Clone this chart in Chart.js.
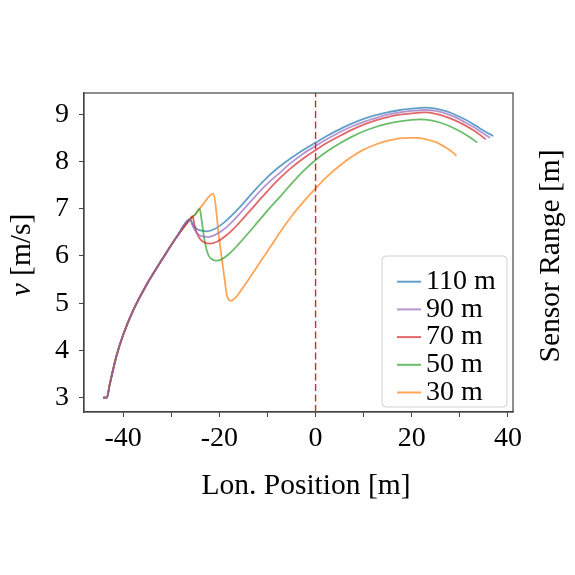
<!DOCTYPE html>
<html>
<head>
<meta charset="utf-8">
<script src="https://cdn.jsdelivr.net/npm/chart.js@4.4.1/dist/chart.umd.min.js"></script>
<style>
  html, body { margin: 0; padding: 0; background: #fff; }
  #wrap { width: 575px; height: 575px; }
</style>
</head>
<body>
<div id="wrap"><canvas id="speedChart" width="575" height="575"></canvas></div>
<script>
// axis ranges
const xMin = -48.15, xMax = 41.05;
const yMin = 2.695, yMax = 9.45;

// shared acceleration phase (same for every sensor range)
const startX = [-44.2, -43.4, -42.8, -41.4, -40.0, -38.0, -35.2, -31.7, -28.9, -26.1];
const startV = [3.0, 3.0, 3.28, 3.88, 4.33, 4.83, 5.38, 5.96, 6.40, 6.78];

// 110 m
const x110 = [-25.5, -24.5, -23.5, -22.7, -21.0, -19.0, -17.0, -15.0, -13.0, -11.0, -8.0, -5.0, -2.5, 0.0, 2.5, 5.0, 7.5, 10.0, 12.5, 15.0, 17.5, 20.0, 22.7, 25.0, 27.3, 29.0, 30.7, 32.5, 34.2, 35.7, 36.95];
const v110 = [6.66, 6.56, 6.53, 6.52, 6.57, 6.71, 6.90, 7.12, 7.35, 7.57, 7.85, 8.08, 8.25, 8.40, 8.55, 8.68, 8.80, 8.90, 8.98, 9.04, 9.09, 9.12, 9.14, 9.12, 9.06, 8.99, 8.91, 8.81, 8.70, 8.61, 8.54];
// 90 m
const x90 = [-25.5, -24.8, -24.0, -23.2, -22.35, -21.0, -19.0, -17.0, -15.0, -13.0, -11.0, -9.5, -8.0, -5.0, -2.5, 0.0, 2.5, 5.0, 7.5, 10.0, 12.5, 15.0, 17.5, 20.0, 22.7, 25.0, 27.3, 29.0, 30.7, 32.5, 34.2, 36.3];
const v90 = [6.62, 6.50, 6.43, 6.41, 6.40, 6.44, 6.57, 6.76, 6.98, 7.21, 7.43, 7.58, 7.71, 7.98, 8.17, 8.33, 8.48, 8.62, 8.74, 8.84, 8.92, 8.99, 9.04, 9.07, 9.09, 9.07, 9.01, 8.94, 8.85, 8.75, 8.64, 8.50];
// 70 m
const x70 = [-25.6, -25.1, -24.4, -23.4, -22.0, -20.5, -19.0, -17.0, -15.0, -13.0, -11.0, -8.0, -5.0, -2.5, 0.0, 2.5, 5.0, 7.5, 10.0, 12.5, 15.0, 17.5, 20.0, 22.7, 25.0, 27.0, 29.0, 31.0, 33.0, 35.4];
const v70 = [6.84, 6.62, 6.42, 6.30, 6.26, 6.30, 6.40, 6.58, 6.80, 7.03, 7.26, 7.59, 7.87, 8.07, 8.24, 8.40, 8.54, 8.67, 8.78, 8.87, 8.94, 8.99, 9.02, 9.04, 9.01, 8.95, 8.87, 8.77, 8.65, 8.47];
// 50 m
const x50 = [-25.0, -24.1, -23.7, -23.0, -22.3, -21.4, -20.6, -19.5, -18.0, -16.0, -14.0, -12.0, -10.0, -7.5, -5.0, -2.5, 0.0, 2.5, 5.0, 7.5, 10.0, 12.5, 15.0, 17.5, 20.0, 21.7, 24.0, 26.0, 28.0, 30.0, 32.0, 33.6];
const v50 = [6.88, 7.00, 6.76, 6.28, 6.02, 5.92, 5.90, 5.93, 6.04, 6.25, 6.48, 6.72, 6.96, 7.24, 7.53, 7.80, 8.03, 8.22, 8.38, 8.52, 8.64, 8.73, 8.80, 8.85, 8.88, 8.89, 8.87, 8.82, 8.74, 8.64, 8.52, 8.40];
// 30 m
const x30 = [-25.0, -23.5, -21.3, -20.0, -19.0, -18.4, -17.6, -16.8, -15.5, -14.0, -12.5, -11.0, -9.0, -7.4, -5.0, -2.5, 0.0, 2.5, 5.0, 7.5, 10.0, 12.5, 15.0, 17.5, 20.0, 21.0, 23.0, 25.0, 27.0, 28.3, 29.3];
const v30 = [6.88, 7.08, 7.32, 6.33, 5.57, 5.15, 5.05, 5.10, 5.27, 5.49, 5.72, 5.95, 6.25, 6.50, 6.84, 7.15, 7.43, 7.69, 7.91, 8.10, 8.25, 8.36, 8.44, 8.49, 8.50, 8.50, 8.47, 8.41, 8.30, 8.21, 8.12];

const labels = ['110 m', '90 m', '70 m', '50 m', '30 m'];
const colors = ['rgba(31,119,180,0.7)', 'rgba(148,103,189,0.7)', 'rgba(214,39,40,0.7)', 'rgba(44,160,44,0.7)', 'rgba(255,127,14,0.7)'];
const drawOrder = [4, 0, 1, 2, 3];

const FONT = '"Liberation Serif", "Times New Roman", serif';

function pts(xs, vs) {
  const all = startX.map((x, i) => ({x: x, y: startV[i]}));
  xs.forEach((x, i) => all.push({x: x, y: vs[i]}));
  return all;
}

const tails = [[x110, v110], [x90, v90], [x70, v70], [x50, v50], [x30, v30]];
const datasets = tails.map((t, i) => ({
  label: labels[i],
  data: pts(t[0], t[1]),
  borderColor: colors[i],
  backgroundColor: colors[i],
  borderWidth: 1.8,
  pointRadius: 0,
  cubicInterpolationMode: 'monotone',
  order: drawOrder[i]
}));
datasets.push({
  label: 'zero',
  data: [{x: 0, y: yMin}, {x: 0, y: yMax}],
  borderColor: '#d62728',
  borderWidth: 1.4,
  borderDash: [7, 3.5],
  pointRadius: 0,
  order: -1
});

const framePlugin = {
  id: 'frame',
  afterDraw(chart) {
    const ctx = chart.ctx;
    const a = chart.chartArea;
    ctx.save();
    ctx.strokeStyle = '#444';
    ctx.lineWidth = 1.2;
    ctx.strokeRect(a.left, a.top, a.right - a.left, a.bottom - a.top);

    // axis titles
    ctx.fillStyle = '#000';
    ctx.textAlign = 'center';
    ctx.textBaseline = 'middle';
    ctx.font = '29.5px ' + FONT;
    ctx.fillText('Lon. Position [m]', 306, 486);

    ctx.save();
    ctx.translate(22, 255);
    ctx.rotate(-Math.PI / 2);
    ctx.font = 'italic 29.5px ' + FONT;
    const vw = ctx.measureText('v').width;
    ctx.font = '29.5px ' + FONT;
    const rw = ctx.measureText(' [m/s]').width;
    const x0 = -(vw + rw) / 2;
    ctx.textAlign = 'left';
    ctx.font = 'italic 29.5px ' + FONT;
    ctx.fillText('v', x0, 0);
    ctx.font = '29.5px ' + FONT;
    ctx.fillText(' [m/s]', x0 + vw, 0);
    ctx.restore();

    ctx.save();
    ctx.translate(551, 256);
    ctx.rotate(-Math.PI / 2);
    ctx.font = '29.5px ' + FONT;
    ctx.fillText('Sensor Range [m]', 0, 0);
    ctx.restore();

    // legend box
    const bx = 382, by = 256, bw = 125, bh = 151;
    ctx.beginPath();
    ctx.roundRect(bx, by, bw, bh, 4);
    ctx.fillStyle = 'rgba(255,255,255,0.8)';
    ctx.fill();
    ctx.strokeStyle = '#d0d0d0';
    ctx.lineWidth = 1;
    ctx.stroke();
    ctx.font = '28px ' + FONT;
    ctx.textAlign = 'left';
    labels.forEach((lab, i) => {
      const ry = 281.7 + i * 27.7;
      ctx.strokeStyle = colors[i];
      ctx.lineWidth = 2;
      ctx.beginPath();
      ctx.moveTo(397, ry);
      ctx.lineTo(421, ry);
      ctx.stroke();
      ctx.fillStyle = '#000';
      ctx.fillText(lab, 426, ry);
    });
    ctx.restore();
  }
};

new Chart(document.getElementById('speedChart').getContext('2d'), {
  type: 'line',
  data: { datasets: datasets },
  options: {
    responsive: false,
    animation: false,
    layout: { padding: { top: 93, right: 62, left: 0, bottom: 0 } },
    plugins: { legend: { display: false }, tooltip: { enabled: false } },
    scales: {
      x: {
        type: 'linear',
        min: xMin, max: xMax,
        afterFit: s => { s.height = 163; },
        grid: { drawOnChartArea: false, drawTicks: true, tickLength: 5, tickColor: '#444' },
        border: { color: '#444', width: 1.2 },
        ticks: {
          stepSize: 10, includeBounds: false, autoSkip: false, maxRotation: 0,
          padding: 5, color: '#000',
          font: { family: FONT, size: 28 },
          callback: v => (v % 20 === 0 ? String(v) : '')
        }
      },
      y: {
        type: 'linear',
        min: yMin, max: yMax,
        afterFit: s => { s.width = 84; },
        grid: { drawOnChartArea: false, drawTicks: true, tickLength: 5, tickColor: '#444' },
        border: { color: '#444', width: 1.2 },
        ticks: {
          stepSize: 1, includeBounds: false, padding: 10, color: '#000',
          font: { family: FONT, size: 28 },
          callback: v => String(v)
        }
      }
    }
  },
  plugins: [framePlugin]
});
</script>
</body>
</html>
